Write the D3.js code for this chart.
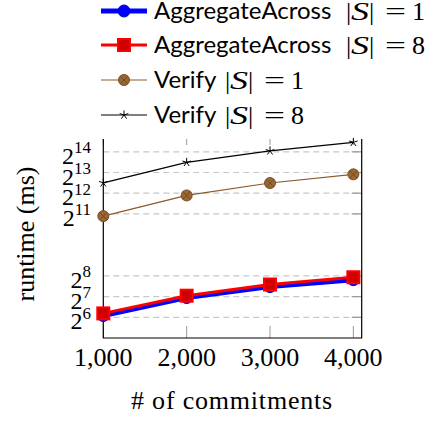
<!DOCTYPE html>
<html>
<head>
<meta charset="utf-8">
<script src="https://cdn.jsdelivr.net/npm/d3@7"></script>
<style>
  body { margin: 0; background: #fff; }
  svg { display: block; }
</style>
</head>
<body>
<div id="chart"></div>
<script>
// data
var commitments = [1000, 2000, 3000, 4000];
var aggS1 = [68, 124, 179, 226];
var aggS8 = [73, 132, 192, 245];
var verS1 = [1900, 3800, 5760, 7700];
var verS8 = [5800, 11500, 16900, 22500];
var yTickExps = [6, 7, 8, 11, 12, 13, 14];
var xTickLabels = ["1,000", "2,000", "3,000", "4,000"];

var width = 434, height = 421;
var plotLeft = 103.3, plotRight = 361.7, plotTop = 139, plotBottom = 338;

var svg = d3.select("#chart").append("svg")
    .attr("width", width)
    .attr("height", height);

var x = d3.scaleLinear().domain([1000, 4100]).range([plotLeft, plotRight]);
var y = d3.scaleLog().base(2).domain([Math.pow(2, 5), Math.pow(2, 14.62)]).range([plotBottom, plotTop]);

var serif = "'Liberation Serif', serif";
var sans = "Lato, 'DejaVu Sans', sans-serif";

// grid lines
svg.append("g").selectAll("line")
    .data(yTickExps)
    .enter().append("line")
    .attr("x1", plotLeft).attr("x2", plotRight)
    .attr("y1", function(d) { return y(Math.pow(2, d)); })
    .attr("y2", function(d) { return y(Math.pow(2, d)); })
    .attr("stroke", "#c8c8c8")
    .attr("stroke-width", 1.2)
    .attr("stroke-dasharray", "6,4");

// small inside ticks
svg.append("g").selectAll("line")
    .data(commitments)
    .enter().append("line")
    .attr("x1", function(d) { return x(d); }).attr("x2", function(d) { return x(d); })
    .attr("y1", plotBottom).attr("y2", plotBottom - 12)
    .attr("stroke", "#999").attr("stroke-width", 1);
svg.append("g").selectAll("line")
    .data(commitments)
    .enter().append("line")
    .attr("x1", function(d) { return x(d); }).attr("x2", function(d) { return x(d); })
    .attr("y1", plotTop).attr("y2", plotTop + 6)
    .attr("stroke", "#999").attr("stroke-width", 1);
svg.append("g").selectAll("line")
    .data(yTickExps)
    .enter().append("line")
    .attr("x1", plotRight - 10).attr("x2", plotRight)
    .attr("y1", function(d) { return y(Math.pow(2, d)); })
    .attr("y2", function(d) { return y(Math.pow(2, d)); })
    .attr("stroke", "#999").attr("stroke-width", 1.2);

// axis frame (left, bottom, right)
svg.append("path")
    .attr("d", "M" + plotLeft + "," + plotTop + "V" + plotBottom + "H" + plotRight + "V" + plotTop)
    .attr("fill", "none")
    .attr("stroke", "#000")
    .attr("stroke-width", 1.2);

// y tick labels
var yl = svg.append("g").selectAll("text")
    .data(yTickExps)
    .enter().append("text")
    .attr("x", 91)
    .attr("y", function(d) { return y(Math.pow(2, d)) + 12; })
    .attr("text-anchor", "end")
    .attr("font-family", serif)
    .attr("font-size", 24);
yl.append("tspan").text("2");
yl.append("tspan").attr("dy", -10.5).attr("font-size", 17).text(function(d) { return d; });

// x tick labels
svg.append("g").selectAll("text")
    .data(commitments)
    .enter().append("text")
    .attr("x", function(d) { return x(d); })
    .attr("y", 366)
    .attr("text-anchor", "middle")
    .attr("font-family", serif)
    .attr("font-size", 26)
    .text(function(d, i) { return xTickLabels[i]; });

// axis titles
svg.append("text")
    .attr("x", 232).attr("y", 409)
    .attr("text-anchor", "middle")
    .attr("font-family", serif)
    .attr("font-size", 26)
    .attr("letter-spacing", 0.8)
    .text("# of commitments");
svg.append("text")
    .attr("transform", "translate(34,234) rotate(-90)")
    .attr("text-anchor", "middle")
    .attr("font-family", serif)
    .attr("font-size", 26)
    .text("runtime (ms)");

var line = d3.line()
    .x(function(d, i) { return x(commitments[i]); })
    .y(function(d) { return y(d); });

// marker drawing helpers
function circleMark(g, r, fill, stroke) {
    g.append("circle").attr("r", r).attr("fill", fill).attr("stroke", stroke).attr("stroke-width", 1);
}
function squareMark(g) {
    g.append("rect").attr("x", -6).attr("y", -6).attr("width", 12).attr("height", 12)
        .attr("fill", "#d00000").attr("stroke", "#ff0000").attr("stroke-width", 2);
}
function otimesMark(g) {
    g.append("circle").attr("r", 5.5).attr("fill", "#9a6634").attr("stroke", "#7a4e25").attr("stroke-width", 1);
    var k = 3.9;
    g.append("path").attr("d", "M" + (-k) + "," + (-k) + "L" + k + "," + k + "M" + (-k) + "," + k + "L" + k + "," + (-k))
        .attr("stroke", "#6a4420").attr("stroke-width", 0.8);
}
function starMark(g) {
    var r = 4.5, d = "";
    for (var i = 0; i < 5; i++) {
        var a = -Math.PI / 2 + i * 2 * Math.PI / 5;
        d += "M0,0L" + (r * Math.cos(a)).toFixed(2) + "," + (r * Math.sin(a)).toFixed(2);
    }
    g.append("path").attr("d", d).attr("stroke", "#000").attr("stroke-width", 1).attr("fill", "none");
}

var series = [
    { name: "AggregateAcross", s: "1", values: aggS1, color: "#0000ff", width: 5, mark: function(g) { circleMark(g, 6, "#0000ff", "#0000cc"); } },
    { name: "AggregateAcross", s: "8", values: aggS8, color: "#ff0000", width: 3, mark: squareMark },
    { name: "Verify", s: "1", values: verS1, color: "#8b5a2b", width: 1.2, mark: otimesMark },
    { name: "Verify", s: "8", values: verS8, color: "#000000", width: 1.2, mark: starMark }
];

series.forEach(function(s) {
    svg.append("path")
        .datum(s.values)
        .attr("d", line)
        .attr("fill", "none")
        .attr("stroke", s.color)
        .attr("stroke-width", s.width);
    s.values.forEach(function(v, i) {
        var g = svg.append("g").attr("transform", "translate(" + x(commitments[i]) + "," + y(v) + ")");
        s.mark(g);
    });
});

// legend
var legendY = [11, 45, 80, 115];
series.forEach(function(s, i) {
    var g = svg.append("g").attr("transform", "translate(0," + legendY[i] + ")");
    g.append("line").attr("x1", 101).attr("x2", 147).attr("y1", 0).attr("y2", 0)
        .attr("stroke", s.color).attr("stroke-width", s.width);
    var m = g.append("g").attr("transform", "translate(124,0)");
    s.mark(m);
    g.append("text").attr("x", 154).attr("y", 8).attr("font-size", 24)
        .attr("font-family", sans).text(s.name);
    // |S| = n, placed after the name
    var start = s.name === "Verify" ? 225 : 346;
    var mathParts = [
        { t: "|", dx: 0, len: null, italic: false },
        { t: "S", dx: 5, len: 18, italic: true },
        { t: "|", dx: 23, len: null, italic: false },
        { t: "=", dx: 39, len: 21, italic: false },
        { t: s.s, dx: 66, len: null, italic: false }
    ];
    mathParts.forEach(function(p) {
        var t = g.append("text")
            .attr("x", start + p.dx)
            .attr("y", 9)
            .attr("font-family", serif)
            .attr("font-size", 26)
            .attr("font-style", p.italic ? "italic" : "normal")
            .text(p.t);
        if (p.len) t.attr("textLength", p.len).attr("lengthAdjust", "spacingAndGlyphs");
    });
});
</script>
</body>
</html>
